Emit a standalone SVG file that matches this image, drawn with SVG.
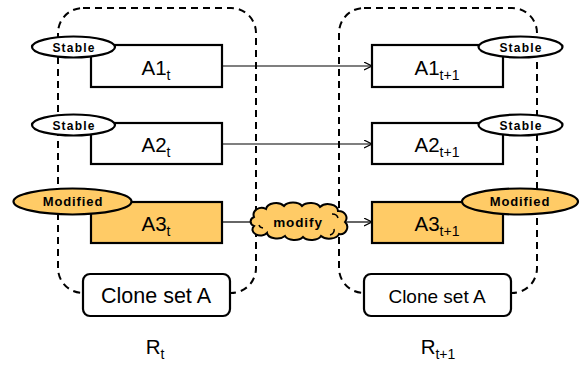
<svg xmlns="http://www.w3.org/2000/svg" width="580" height="371" viewBox="0 0 580 371">
<style>
.region{fill:none;stroke:#000;stroke-width:2;stroke-dasharray:7 5}
.box{fill:#fff;stroke:#000;stroke-width:2.2}
.mod{fill:#FFCB66;stroke:#000;stroke-width:2.2}
.tag{fill:#fff;stroke:#000;stroke-width:2.2}
.tagm{fill:#FFCB66;stroke:#000;stroke-width:2.2}
.lbl{font-family:"Liberation Sans",Arial,sans-serif;font-size:20.5px;fill:#000;text-anchor:middle}
.sub{font-size:14px}
.tagt{font-family:"Liberation Sans",Arial,sans-serif;font-weight:bold;font-size:12px;letter-spacing:1.2px;fill:#000;text-anchor:middle}
.tagmt{font-family:"Liberation Sans",Arial,sans-serif;font-weight:bold;font-size:13px;letter-spacing:0.9px;fill:#000;text-anchor:middle}
.conn{fill:none;stroke:#000;stroke-width:1.2}
</style>
<defs>
<marker id="arr" markerWidth="10" markerHeight="10" refX="8" refY="4" orient="auto" markerUnits="userSpaceOnUse">
<path d="M0,0 L8,4 L0,8" fill="none" stroke="#000" stroke-width="1.2"/>
</marker>
</defs>
<g id="region-Rt">
<rect class="region" x="58" y="8" width="198" height="285" rx="25"/>
</g>
<g id="region-Rt1">
<rect class="region" x="339" y="8" width="198" height="285" rx="25"/>
</g>
<g id="connectors">
<line class="conn" x1="222" y1="66" x2="372" y2="66" marker-end="url(#arr)"/>
<line class="conn" x1="222" y1="144" x2="372" y2="144" marker-end="url(#arr)"/>
<line class="conn" x1="222" y1="222" x2="250" y2="222"/>
<line class="conn" x1="346" y1="222" x2="372" y2="222" marker-end="url(#arr)"/>
</g>
<g id="modify">
<path d="M254,217 a8,7 0 0 1 12,-8 a10,7 0 0 1 18,-3 a10,6 0 0 1 18,0 a10,6 0 0 1 18,1 a10,7 0 0 1 18,4 a8,7 0 0 1 7,11 a7,7 0 0 1 -6,12 a10,6 0 0 1 -18,2 a10,6 0 0 1 -18,1 a10,6 0 0 1 -18,-1 a10,6 0 0 1 -18,-3 a8,6 0 0 1 -13,-7 a6,5 0 0 1 0,-9 z" fill="#FFCB66" stroke="#000" stroke-width="2"/>
<path d="M263,228 a5,4 0 0 1 -4,-3 M332,214 a6,5 0 0 1 6,4 M330,235 a6,5 0 0 0 4,-6" fill="none" stroke="#000" stroke-width="1.5"/>
<text class="tagmt" x="298" y="227" style="font-size:13.5px">modify</text>
</g>
<g id="A1t">
<rect class="box" x="91" y="45" width="131" height="42"/>
<ellipse class="tag" cx="73.5" cy="47" rx="41.5" ry="10.5"/>
<text class="tagt" x="74" y="51.5">Stable</text>
<text class="lbl" x="156" y="75">A1<tspan class="sub" dy="5">t</tspan></text>
</g>
<g id="A2t">
<rect class="box" x="91" y="123" width="131" height="41"/>
<ellipse class="tag" cx="73.5" cy="125" rx="41.5" ry="10.5"/>
<text class="tagt" x="74" y="129.5">Stable</text>
<text class="lbl" x="156" y="152">A2<tspan class="sub" dy="5">t</tspan></text>
</g>
<g id="A3t">
<rect class="mod" x="91" y="202" width="131" height="41"/>
<ellipse class="tagm" cx="72.5" cy="201.5" rx="59" ry="13"/>
<text class="tagmt" x="73" y="206">Modified</text>
<text class="lbl" x="156" y="231">A3<tspan class="sub" dy="5">t</tspan></text>
</g>
<g id="A1t1">
<rect class="box" x="372" y="45" width="131" height="42"/>
<ellipse class="tag" cx="520.5" cy="47" rx="42" ry="10.5"/>
<text class="tagt" x="521" y="51.5">Stable</text>
<text class="lbl" x="437" y="75">A1<tspan class="sub" dy="5">t+1</tspan></text>
</g>
<g id="A2t1">
<rect class="box" x="372" y="123" width="131" height="41"/>
<ellipse class="tag" cx="520.5" cy="125" rx="42" ry="10.5"/>
<text class="tagt" x="521" y="129.5">Stable</text>
<text class="lbl" x="437" y="152">A2<tspan class="sub" dy="5">t+1</tspan></text>
</g>
<g id="A3t1">
<rect class="mod" x="372" y="202" width="131" height="41"/>
<ellipse class="tagm" cx="520" cy="201.5" rx="58" ry="13"/>
<text class="tagmt" x="520" y="206">Modified</text>
<text class="lbl" x="437" y="231">A3<tspan class="sub" dy="5">t+1</tspan></text>
</g>
<g id="cloneA-t">
<rect class="box" x="83" y="274" width="147" height="42" rx="7"/>
<text class="lbl" x="156" y="303" style="font-size:21.5px">Clone set A</text>
</g>
<g id="cloneA-t1">
<rect class="box" x="364" y="274" width="147" height="42" rx="7"/>
<text class="lbl" x="437" y="303" style="font-size:19px">Clone set A</text>
</g>
<g id="labels">
<text class="lbl" x="155" y="354">R<tspan class="sub" dy="5">t</tspan></text>
<text class="lbl" x="438" y="354">R<tspan class="sub" dy="5">t+1</tspan></text>
</g>
</svg>
